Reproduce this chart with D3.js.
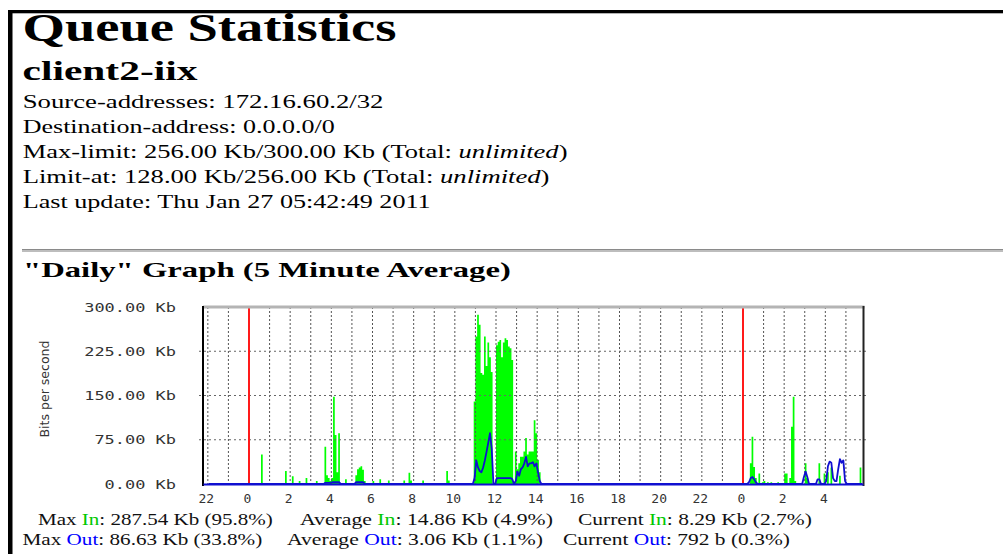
<!DOCTYPE html>
<html>
<head>
<meta charset="utf-8">
<script src="https://cdn.jsdelivr.net/npm/d3@7"></script>
<style>
  body { margin: 0; background: #fff; }
  svg { display: block; }
</style>
</head>
<body>
<div id="page"></div>
<script>
// ---- text content ----
const titleText = "Queue Statistics";
const queueName = "client2-iix";
// odd entries are italic
const infoLines = [
  ["Source-addresses: 172.16.60.2/32"],
  ["Destination-address: 0.0.0.0/0"],
  ["Max-limit: 256.00 Kb/300.00 Kb (Total: ", "unlimited", ")"],
  ["Limit-at: 128.00 Kb/256.00 Kb (Total: ", "unlimited", ")"],
  ["Last update: Thu Jan 27 05:42:49 2011"]
];
const graphTitle = "\"Daily\" Graph (5 Minute Average)";
const yAxisTitle = "Bits per second";
const statNames = ["Max", "Average", "Current"];
const statsIn  = ["287.54 Kb (95.8%)", "14.86 Kb (4.9%)", "8.29 Kb (2.7%)"];
const statsOut = ["86.63 Kb (33.8%)", "3.06 Kb (1.1%)", "792 b (0.3%)"];

// ---- graph data: one row per hour (hour 0 = first midnight), 12 five-minute samples per row, Kb/s ----
const rowHours = d3.range(-2, 30);
const yTicks = [0, 75, 150, 225, 300];
const xTickHours = d3.range(-2, 29, 2);
const midnights = [0, 24];

const inKb = [
  [0,0,0,0,0,0,0,0,0,0,0,0],            // 22
  [0,0,0,0,0,0,0,0,0,0,0,0],            // 23
  [0,0,0,0,0,0,0,50,0,0,0,0],           // 0
  [0,0,0,0,0,0,0,0,0,22,0,0],           // 1
  [0,13,0,0,0,5,0,0,0,10,0,0],          // 2
  [0,0,0,5,0,0,0,0,63,15,10,5],         // 3
  [10,148,83,20,86,0,0,0,8,0,0,0],      // 4
  [0,0,15,25,28,30,24,5,0,0,0,0],       // 5
  [5,0,0,0,8,0,0,0,0,6,0,0],            // 6
  [0,0,0,0,0,0,6,0,0,19,6,0],           // 7
  [0,0,0,0,0,6,0,0,0,0,0,0],            // 8
  [0,0,0,0,0,0,0,22,6,0,0,0],           // 9
  [0,0,0,0,0,0,0,0,0,0,0,140],          // 10
  [250,287,270,188,185,250,200,240,215,190,0,0], // 11
  [235,241,244,215,240,247,244,233,230,210,0,55], // 12
  [25,35,46,46,55,78,50,55,55,55,108,86],        // 13
  [41,20,0,0,0,0,0,0,0,0,0,0],          // 14
  [0,0,0,0,0,0,0,0,0,0,0,0],            // 15
  [0,0,0,0,0,0,0,0,0,0,0,0],            // 16
  [0,0,0,0,0,0,0,0,0,0,0,0],            // 17
  [0,0,0,0,0,0,0,0,0,0,0,0],            // 18
  [0,0,0,0,0,0,0,0,0,0,0,0],            // 19
  [0,0,0,0,0,0,0,0,0,0,0,0],            // 20
  [0,0,0,0,0,0,0,0,0,0,0,0],            // 21
  [0,0,0,0,0,0,0,0,0,0,0,0],            // 22
  [0,0,0,0,0,0,0,0,0,0,0,0],            // 23
  [0,0,0,0,35,80,29,10,0,18,0,3],       // 0
  [5,0,3,0,3,0,0,0,3,0,0,0],            // 1
  [18,18,0,10,97,148,5,0,0,0,0,0],      // 2
  [35,10,0,0,0,0,0,0,35,0,0,18],        // 3
  [0,20,0,28,0,0,0,0,14,0,0,0],         // 4
  [0,0,0,0,0,0,0,0,28,0]                // 5
];

const outKb = [
  [0,0,0,0,0,0,0,0,0,0,0,0],
  [0,0,0,0,0,0,0,0,0,0,0,0],
  [0,0,0,0,0,0,0,0,0,0,0,0],
  [0,0,0,0,0,0,0,0,0,0,0,0],
  [0,0,0,0,0,0,0,0,0,0,0,0],
  [0,0,0,0,0,0,0,0,2,2,2,2],
  [3,3,3,3,3,0,0,0,0,0,0,0],
  [0,0,3,3,3,3,3,0,0,0,0,0],
  [0,0,0,0,0,0,0,0,0,0,0,0],
  [0,0,0,0,0,0,0,0,0,0,0,0],
  [0,0,0,0,0,0,0,0,0,0,0,0],
  [0,0,0,0,0,0,0,0,0,0,0,0],
  [0,0,0,0,0,0,0,0,0,0,0,10],
  [40,28,22,20,28,40,55,70,86,60,0,0],
  [10,10,10,10,10,10,10,10,10,8,0,5],
  [21,14,25,28,35,46,30,35,35,37,30,35],
  [20,5,0,0,0,0,0,0,0,0,0,0],
  [0,0,0,0,0,0,0,0,0,0,0,0],
  [0,0,0,0,0,0,0,0,0,0,0,0],
  [0,0,0,0,0,0,0,0,0,0,0,0],
  [0,0,0,0,0,0,0,0,0,0,0,0],
  [0,0,0,0,0,0,0,0,0,0,0,0],
  [0,0,0,0,0,0,0,0,0,0,0,0],
  [0,0,0,0,0,0,0,0,0,0,0,0],
  [0,0,0,0,0,0,0,0,0,0,0,0],
  [0,0,0,0,0,0,0,0,0,0,0,0],
  [0,0,0,3,10,12,8,3,0,0,0,0],
  [0,0,0,0,0,0,0,0,0,0,0,0],
  [0,0,0,0,0,0,0,0,0,0,0,12],
  [21,12,0,0,0,0,0,8,8,0,0,0],
  [5,30,38,36,10,5,5,25,42,36,40,5],
  [0,0,0,0,0,0,0,0,0,0]
];

const step = 1 / 12;
const samples = rowHours.flatMap((h, r) =>
  inKb[r].map((v, k) => ({ t: h + k * step, inV: v, outV: outKb[r][k] })));

// ---- page ----
const W = 1003, H = 554;
const svg = d3.select("#page").append("svg").attr("width", W).attr("height", H);

// page frame
svg.append("rect").attr("x", 8).attr("y", 10).attr("width", W - 8).attr("height", 3.3).attr("fill", "#000");
svg.append("rect").attr("x", 8).attr("y", 10).attr("width", 4.5).attr("height", H - 10).attr("fill", "#000");

// stretch a text element horizontally so it spans the wanted width
function fit(sel, x, y, width) {
  const w = sel.node().getBBox().width;
  sel.attr("transform", `translate(${x},${y}) scale(${width / w},1)`);
}

function serifText(parts, x, y, width, size, weight) {
  const t = svg.append("text")
    .attr("font-family", "'Liberation Serif', 'Times New Roman', serif")
    .attr("font-size", size)
    .attr("font-weight", weight)
    .attr("fill", "#000");
  parts.forEach((p, i) => {
    t.append("tspan").attr("font-style", i % 2 ? "italic" : "normal").text(p);
  });
  fit(t, x, y, width);
  return t;
}

serifText([titleText], 22.5, 41, 374, 40, "bold");
serifText([queueName], 22.5, 80, 175, 28, "bold");

const infoY = [108, 133, 158, 183, 208];
const infoW = [361, 312, 545, 527, 408];
infoLines.forEach((parts, i) => serifText(parts, 22.7, infoY[i], infoW[i], 18, "normal"));

// rule
svg.append("rect").attr("x", 22).attr("y", 249).attr("width", W - 22).attr("height", 3).attr("fill", "#bdbdbd");
svg.append("line").attr("x1", 22).attr("x2", W).attr("y1", 249.5).attr("y2", 249.5).attr("stroke", "#8a8a8a");

serifText([graphTitle], 23, 276.5, 488, 22, "bold");

// ---- graph ----
const x = d3.scaleLinear().domain([-2.235, 29.83]).range([203, 863]);
const y = d3.scaleLinear().domain([0, 300]).range([484, 307]);
const g = svg.append("g");

// in: filled step area (one column per sample)
const last = samples[samples.length - 1];
g.append("path")
  .datum(samples.concat([{ t: last.t + step, inV: last.inV }]))
  .attr("fill", "#00ff00")
  .attr("d", d3.area().curve(d3.curveStepAfter)
    .x(d => x(d.t)).y0(y(0)).y1(d => y(d.inV)));

// grid
g.append("g").selectAll("line")
  .data(d3.range(-2, 30))
  .join("line")
  .attr("x1", d => x(d)).attr("x2", d => x(d))
  .attr("y1", y(300)).attr("y2", y(0) + 2)
  .attr("stroke", "#555").attr("stroke-width", 1)
  .attr("stroke-dasharray", "2,2");
g.append("g").selectAll("line")
  .data(yTicks.slice(1, -1))
  .join("line")
  .attr("x1", 199).attr("x2", 866)
  .attr("y1", d => y(d)).attr("y2", d => y(d))
  .attr("stroke", "#666").attr("stroke-width", 1.2)
  .attr("stroke-dasharray", "2,3");

// midnight markers
g.append("g").selectAll("line")
  .data(midnights)
  .join("line")
  .attr("x1", d => x(d)).attr("x2", d => x(d))
  .attr("y1", y(300)).attr("y2", y(0))
  .attr("stroke", "#ff1a1a").attr("stroke-width", 2);

// frame
g.append("line").attr("x1", 203).attr("x2", 864.5).attr("y1", y(300)).attr("y2", y(300))
  .attr("stroke", "#b4b4b4").attr("stroke-width", 3);
g.append("line").attr("x1", 203).attr("x2", 203).attr("y1", 306).attr("y2", 486)
  .attr("stroke", "#000").attr("stroke-width", 2);
g.append("line").attr("x1", 863.5).attr("x2", 863.5).attr("y1", 306).attr("y2", 486)
  .attr("stroke", "#222").attr("stroke-width", 2);

// x axis (baseline drawn in the out colour)
const xAxis = g.append("g")
  .attr("transform", `translate(0,${y(0)})`)
  .call(d3.axisBottom(x).tickValues(xTickHours)
    .tickFormat(d => (d + 24) % 24).tickSize(0).tickPadding(9.5));
xAxis.select(".domain").attr("stroke", "#1010d0").attr("stroke-width", 2);
xAxis.selectAll("text")
  .attr("dx", -2)
  .attr("font-family", "'DejaVu Sans Mono', monospace")
  .attr("font-size", 13)
  .attr("fill", "#333");

// out: line
g.append("path")
  .datum(samples)
  .attr("fill", "none")
  .attr("stroke", "#1010d0")
  .attr("stroke-width", 1.8)
  .attr("stroke-linejoin", "round")
  .attr("d", d3.line().x(d => x(d.t + step / 2)).y(d => y(d.outV)));

// y axis
const yAxis = g.append("g")
  .attr("transform", "translate(176,0)")
  .call(d3.axisLeft(y).tickValues(yTicks)
    .tickFormat(d => d3.format(".2f")(d) + " Kb").tickSize(0).tickPadding(0));
yAxis.select(".domain").remove();
yAxis.selectAll("text")
  .attr("font-family", "'DejaVu Sans Mono', monospace")
  .attr("font-size", 13)
  .attr("fill", "#333")
  .attr("textLength", d => (d3.format(".2f")(d) + " Kb").length * 10.2)
  .attr("lengthAdjust", "spacingAndGlyphs");

svg.append("text")
  .attr("transform", "translate(45,389) rotate(-90)")
  .attr("text-anchor", "middle")
  .attr("dy", "0.35em")
  .attr("font-family", "'DejaVu Sans', sans-serif")
  .attr("font-size", 12)
  .attr("fill", "#333")
  .attr("textLength", 97)
  .attr("lengthAdjust", "spacingAndGlyphs")
  .text(yAxisTitle);

// ---- summary lines ----
function statText(name, dir, color, value, x0, y0, width) {
  const t = svg.append("text")
    .attr("font-family", "'Liberation Serif', 'Times New Roman', serif")
    .attr("font-size", 17)
    .attr("fill", "#111");
  t.append("tspan").text(name + " ");
  t.append("tspan").attr("fill", color).text(dir);
  t.append("tspan").text(": " + value);
  fit(t, x0, y0, width);
}
const inX = [38, 300, 578], inW = [235, 253, 234];
const outX = [22.5, 287, 563], outW = [240, 256, 227];
statNames.forEach((n, i) => statText(n, "In", "#00c800", statsIn[i], inX[i], 525, inW[i]));
statNames.forEach((n, i) => statText(n, "Out", "#0000ff", statsOut[i], outX[i], 545, outW[i]));
</script>
</body>
</html>
